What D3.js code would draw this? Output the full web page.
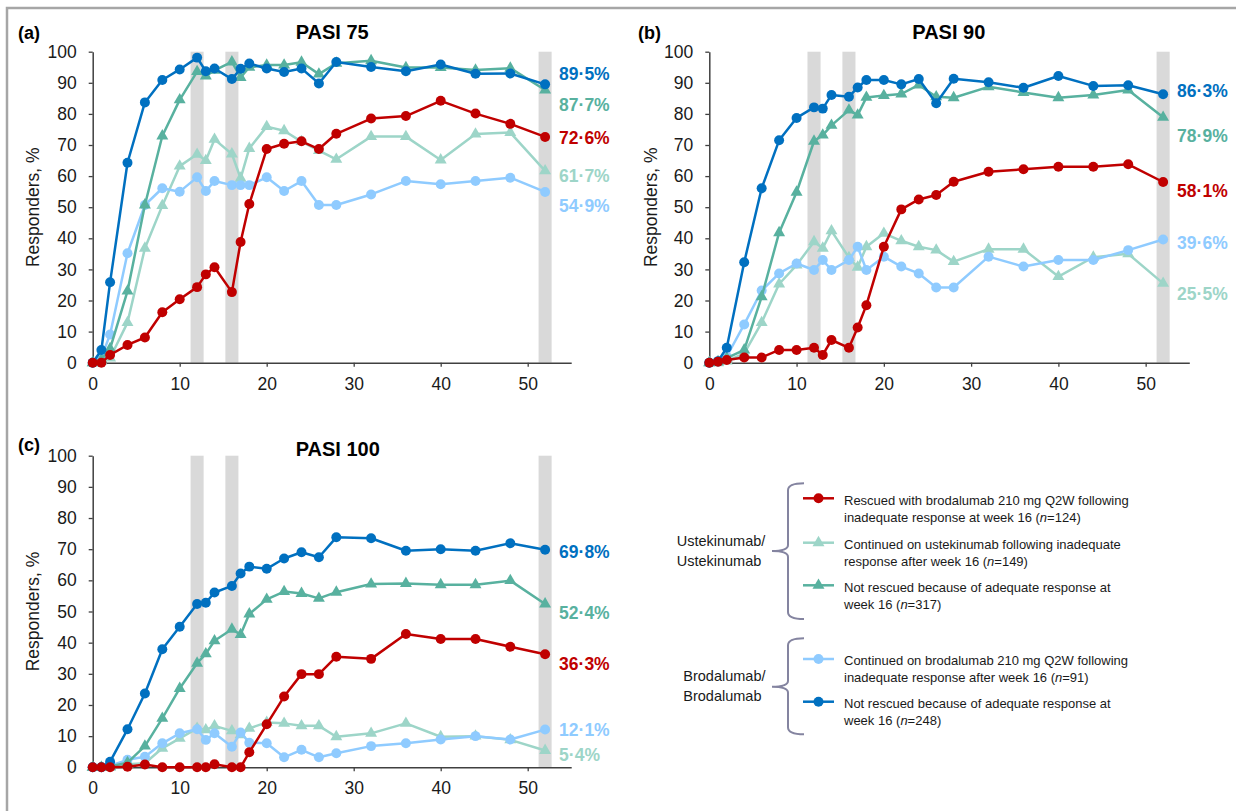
<!DOCTYPE html>
<html>
<head>
<meta charset="utf-8">
<script src="https://cdn.jsdelivr.net/npm/d3@7"></script>
<style>
  body { margin: 0; background: #fff; }
  svg { font-family: "Liberation Sans", Arial, sans-serif; }
</style>
</head>
<body>
<svg id="chart" width="1236" height="811"></svg>
<script>
// Week of each visit
var weeks = [0, 1, 2, 4, 6, 8, 10, 12, 13, 14, 16, 17, 18, 20, 22, 24, 26, 28, 32, 36, 40, 44, 48, 52];

// PASI 75
var rescued75   = [0, 0, 2.5, 5.7, 8.1, 16.2, 20.4, 24.3, 28.4, 30.7, 22.7, 38.8, 51.0, 68.7, 70.4, 71.2, 68.7, 73.6, 78.5, 79.3, 84.2, 80.1, 76.8, 72.6];
var ustCont75   = [0, 0.5, 1.5, 12.9, 36.8, 50.5, 63.2, 67.0, 65.0, 71.8, 67.1, 59.3, 68.9, 75.9, 74.6, 71.1, 68.2, 65.4, 72.7, 72.7, 65.2, 73.5, 74.0, 61.7];
var ustAdeq75   = [0, 1, 4.5, 23.0, 50.7, 72.9, 84.5, 93.6, 92.2, 94.0, 96.7, 91.7, 95.0, 95.7, 95.7, 96.6, 92.8, 96.3, 97.1, 94.9, 94.9, 94.1, 94.7, 87.7];
var broCont75   = [0, 1.7, 9.1, 35.2, 50.7, 56.1, 55.0, 59.6, 55.2, 58.4, 57.1, 57.1, 57.1, 59.6, 55.2, 58.4, 50.7, 50.7, 54.1, 58.4, 57.4, 58.4, 59.5, 54.9];
var broAdeq75   = [0, 4.1, 25.9, 64.3, 83.7, 90.9, 94.3, 98.1, 93.7, 94.6, 91.2, 94.5, 96.2, 94.6, 93.5, 94.6, 89.8, 96.7, 95.1, 93.7, 95.9, 92.9, 93.0, 89.5];

// PASI 90
var rescued90   = [0, 0.3, 0.9, 1.7, 1.7, 4.1, 4.1, 4.8, 2.5, 7.3, 4.8, 11.3, 18.5, 37.3, 49.3, 52.5, 53.9, 58.2, 61.4, 62.2, 63.0, 63.0, 63.8, 58.1];
var ustCont90   = [0, 0, 0.5, 3, 12.9, 25.3, 31.4, 38.9, 36.8, 42.4, 33.8, 30.7, 37.3, 41.6, 39.2, 37.3, 36.2, 32.5, 36.5, 36.5, 27.7, 33.9, 35.0, 25.5];
var ustAdeq90   = [0, 0.3, 1.5, 4.1, 21.2, 41.8, 54.8, 71.2, 73.2, 76.3, 81.2, 79.6, 85.3, 85.9, 86.4, 89.3, 85.5, 85.2, 88.7, 86.9, 85.2, 86.1, 87.7, 78.9];
var broCont90   = [0, 0.3, 2, 12.3, 23.2, 28.7, 31.9, 29.8, 33.0, 29.8, 33.0, 37.3, 29.8, 34.1, 30.9, 28.7, 24.2, 24.2, 34.1, 30.9, 33.0, 33.0, 36.2, 39.6];
var broAdeq90   = [0, 0.5, 4.8, 32.3, 56.1, 71.5, 78.7, 82.1, 81.7, 86.1, 85.5, 88.5, 90.9, 90.9, 89.5, 91.2, 83.4, 91.3, 90.2, 88.4, 92.2, 89.0, 89.2, 86.3];

// PASI 100
var rescued100  = [0, 0, 0, 0.2, 0.9, 0, 0, 0, 0, 1.0, 0, 0, 4.8, 13.8, 22.7, 29.9, 29.9, 35.5, 34.8, 42.8, 41.2, 41.2, 38.7, 36.3];
var ustCont100  = [0, 0, 0, 1, 1.3, 6.1, 9.3, 12.5, 12.0, 13.3, 11.7, 10.4, 12.5, 14.4, 14.1, 13.3, 13.3, 9.8, 10.9, 14.1, 9.8, 10.0, 8.8, 5.4];
var ustAdeq100  = [0, 0, 0.3, 1.5, 6.8, 15.7, 25.3, 33.4, 36.4, 40.6, 44.3, 42.6, 49.2, 53.9, 56.4, 55.8, 54.2, 56.2, 58.8, 59.0, 58.6, 58.6, 59.9, 52.4];
var broCont100  = [0, 0, 0.5, 2.4, 3.4, 7.7, 10.9, 12.2, 8.8, 10.9, 6.6, 11.2, 7.9, 7.7, 3.2, 5.6, 3.2, 4.5, 6.8, 7.7, 8.9, 10.0, 8.9, 12.1];
var broAdeq100  = [0, 0, 1.8, 12.2, 23.7, 37.9, 45.1, 52.4, 52.8, 56.1, 58.2, 62.2, 64.4, 63.7, 67.0, 69.0, 67.4, 73.8, 73.5, 69.5, 70.0, 69.5, 71.9, 69.8];

// Shaded visits and axis ticks
var bandWeeks = [12, 16, 52];
var xTicks = [0, 10, 20, 30, 40, 50];
var yTicks = [0, 10, 20, 30, 40, 50, 60, 70, 80, 90, 100];

// series order = drawing order (back to front)
var seriesKeys = ["ustCont", "broCont", "ustAdeq", "broAdeq", "rescued"];
var colors = {
  rescued: "#C00000",
  ustCont: "#9DD5C8",
  ustAdeq: "#58B19F",
  broCont: "#8FCBFF",
  broAdeq: "#0070C0"
};
var shapes = {
  rescued: d3.symbolCircle, broCont: d3.symbolCircle, broAdeq: d3.symbolCircle,
  ustCont: d3.symbolTriangle, ustAdeq: d3.symbolTriangle
};

var panels = [
  { tag: "(a)", title: "PASI 75", left: 92.7, top: 51.7, width: 478.5, height: 311,
    titleY: 39, tagX: 18, tagY: 39, ylabX: 33,
    values: { rescued: rescued75, ustCont: ustCont75, ustAdeq: ustAdeq75, broCont: broCont75, broAdeq: broAdeq75 },
    labelAt: { broAdeq: 93.0, ustAdeq: 83.1, rescued: 72.3, ustCont: 60.0, broCont: 50.5 } },
  { tag: "(b)", title: "PASI 90", left: 709.3, top: 51.7, width: 480, height: 311,
    titleY: 39, tagX: 638, tagY: 39, ylabX: 651,
    values: { rescued: rescued90, ustCont: ustCont90, ustAdeq: ustAdeq90, broCont: broCont90, broAdeq: broAdeq90 },
    labelAt: { broAdeq: 87.4, ustAdeq: 72.9, rescued: 55.3, broCont: 38.7, ustCont: 22.1 } },
  { tag: "(c)", title: "PASI 100", left: 92.7, top: 455.7, width: 478.5, height: 311.6,
    titleY: 455.5, tagX: 18, tagY: 451, ylabX: 33,
    values: { rescued: rescued100, ustCont: ustCont100, ustAdeq: ustAdeq100, broCont: broCont100, broAdeq: broAdeq100 },
    labelAt: { broAdeq: 69.2, ustAdeq: 49.6, rescued: 33.4, broCont: 12.2, ustCont: 3.9 } }
];

var svg = d3.select("#chart");

// outer frame (top and left edges only)
svg.append("path")
  .attr("d", "M7,811 L7,8 L1236,8")
  .attr("fill", "none")
  .attr("stroke", "#A6A6A6")
  .attr("stroke-width", 2.5);

function fmtPct(v) {
  return d3.format(".1f")(v).replace(".", "\u00B7") + "%";
}

function drawPanel(p) {
  var x = d3.scaleLinear().domain([0, 55]).range([p.left, p.left + p.width]);
  var y = d3.scaleLinear().domain([0, 100]).range([p.top + p.height, p.top]);
  var g = svg.append("g");

  // grey bands at weeks 12, 16, 52
  g.selectAll(".band")
    .data(bandWeeks)
    .enter()
    .append("rect")
    .attr("x", function(d) { return x(d - 0.75); })
    .attr("width", x(1.5) - x(0))
    .attr("y", y(100))
    .attr("height", y(0) - y(100))
    .attr("fill", "#D9D9D9");

  // axes
  var yAxis = d3.axisLeft(y).tickValues(yTicks).tickSize(4).tickSizeOuter(0).tickPadding(12);
  var gy = g.append("g").attr("transform", "translate(" + x(0) + ",0)").call(yAxis);
  var xAxis = d3.axisBottom(x).tickValues(xTicks).tickSize(4).tickSizeOuter(0).tickPadding(10.5);
  var gx = g.append("g").attr("transform", "translate(0," + y(0) + ")").call(xAxis);
  [gx, gy].forEach(function(a) {
    a.select(".domain").attr("stroke", "#404040").attr("stroke-width", 1.5);
    a.selectAll(".tick line").attr("stroke", "#404040").attr("stroke-width", 1.3);
    a.selectAll(".tick text").attr("font-size", "17.5px").attr("fill", "#1a1a1a")
      .attr("font-family", "'Liberation Sans', Arial, sans-serif");
  });

  var line = d3.line()
    .x(function(d, i) { return x(weeks[i]); })
    .y(function(d) { return y(d); });

  seriesKeys.forEach(function(k) {
    var vals = p.values[k];
    g.append("path")
      .attr("d", line(vals))
      .attr("fill", "none")
      .attr("stroke", colors[k])
      .attr("stroke-width", 2.5)
      .attr("stroke-linejoin", "round");
    g.selectAll(".m-" + k)
      .data(vals)
      .enter()
      .append("path")
      .attr("class", "m-" + k)
      .attr("d", d3.symbol().type(shapes[k]).size(shapes[k] === d3.symbolCircle ? 78 : 62))
      .attr("transform", function(d, i) { return "translate(" + x(weeks[i]) + "," + y(d) + ")"; })
      .attr("fill", colors[k]);
  });

  // end-of-study value labels
  seriesKeys.forEach(function(k) {
    var vals = p.values[k];
    g.append("text")
      .attr("x", x(52) + 14)
      .attr("y", y(p.labelAt[k]))
      .attr("dy", "0.36em")
      .attr("font-size", "17.5px")
      .attr("font-weight", "bold")
      .attr("fill", colors[k])
      .text(fmtPct(vals[vals.length - 1]));
  });

  // titles
  g.append("text")
    .attr("x", x(0) + 203)
    .attr("y", p.titleY)
    .attr("font-size", "20px")
    .attr("font-weight", "bold")
    .attr("fill", "#000")
    .text(p.title);
  g.append("text")
    .attr("x", p.tagX)
    .attr("y", p.tagY)
    .attr("font-size", "18px")
    .attr("font-weight", "bold")
    .attr("fill", "#000")
    .text(p.tag);
  g.append("text")
    .attr("transform", "translate(" + p.ylabX + "," + (p.top + p.height / 2) + ") rotate(-90)")
    .attr("text-anchor", "middle")
    .attr("dy", "0.35em")
    .attr("font-size", "17.5px")
    .attr("fill", "#1a1a1a")
    .text("Responders, %");
}

panels.forEach(drawPanel);

// ----- legend -----
var legendItems = [
  { key: "rescued", line1: "Rescued with brodalumab 210 mg Q2W following", line2: "inadequate response at week 16 (", n: 124 },
  { key: "ustCont", line1: "Continued on ustekinumab following inadequate", line2: "response after week 16 (", n: 149 },
  { key: "ustAdeq", line1: "Not rescued because of adequate response at", line2: "week 16 (", n: 317 },
  { key: "broCont", line1: "Continued on brodalumab 210 mg Q2W following", line2: "inadequate response after week 16 (", n: 91 },
  { key: "broAdeq", line1: "Not rescued because of adequate response at", line2: "week 16 (", n: 248 }
];
var legendRowY = [498.3, 542.7, 585.3, 659, 701.7];
var groups = [
  { lines: ["Ustekinumab/", "Ustekinumab"], x: 676.7, y: 546, top: 483.3, tip: 551, bottom: 619 },
  { lines: ["Brodalumab/", "Brodalumab"], x: 683.3, y: 681, top: 638.3, tip: 686.7, bottom: 734.3 }
];

var lg = svg.append("g");
legendItems.forEach(function(it, i) {
  var cy = legendRowY[i];
  lg.append("line")
    .attr("x1", 803).attr("x2", 834)
    .attr("y1", cy).attr("y2", cy)
    .attr("stroke", colors[it.key]).attr("stroke-width", 2.5);
  lg.append("path")
    .attr("d", d3.symbol().type(shapes[it.key]).size(shapes[it.key] === d3.symbolCircle ? 78 : 62))
    .attr("transform", "translate(818.5," + cy + ")")
    .attr("fill", colors[it.key]);
  var t = lg.append("text")
    .attr("font-size", "13px")
    .attr("fill", "#1a1a1a");
  t.append("tspan").attr("x", 844).attr("y", cy + 6.2).text(it.line1);
  var t2 = t.append("tspan").attr("x", 844).attr("y", cy + 23.3).text(it.line2);
  t.append("tspan").attr("font-style", "italic").text("n");
  t.append("tspan").text("=" + it.n + ")");
});

groups.forEach(function(gr) {
  var p = d3.path();
  var bx = 788, ex = 804, tx = 772;
  p.moveTo(ex, gr.top);
  p.quadraticCurveTo(bx, gr.top, bx, gr.top + 7);
  p.lineTo(bx, gr.tip - 6);
  p.quadraticCurveTo(bx, gr.tip, tx, gr.tip);
  p.quadraticCurveTo(bx, gr.tip, bx, gr.tip + 6);
  p.lineTo(bx, gr.bottom - 7);
  p.quadraticCurveTo(bx, gr.bottom, ex, gr.bottom);
  lg.append("path")
    .attr("d", p.toString())
    .attr("fill", "none")
    .attr("stroke", "#8484A0")
    .attr("stroke-width", 2);
  lg.append("text")
    .attr("font-size", "14.5px")
    .attr("fill", "#1a1a1a")
    .selectAll("tspan")
    .data(gr.lines)
    .enter()
    .append("tspan")
    .attr("x", gr.x)
    .attr("y", function(d, i) { return gr.y + i * 20; })
    .text(function(d) { return d; });
});
</script>
</body>
</html>
